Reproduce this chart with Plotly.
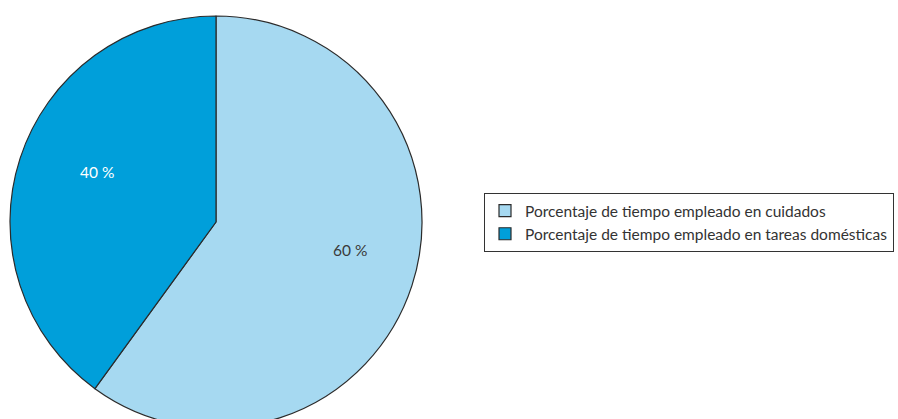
import plotly.graph_objects as go
import math

categories = ["Porcentaje de tiempo empleado en cuidados",
              "Porcentaje de tiempo empleado en tareas domésticas"]
values = [60, 40]
label_suffix = " %"
colors = ["#A6D9F1", "#009FDA"]
text_colors = ["#3a3a3a", "#ffffff"]

W, H = 898, 440
CX, CY, R = 216, 222, 206  # pie centre / radius in pixels (layout)
# label placement: (angle from top clockwise, radius fraction) per slice (layout)
label_pos = [(101.8, 0.665), (293.0, 0.625)]

fig = go.Figure(go.Pie(
    labels=categories,
    values=values,
    sort=False,
    direction="clockwise",
    rotation=0,
    marker=dict(colors=colors, line=dict(color="#2b2b2b", width=1.2)),
    textinfo="none",
    domain=dict(x=[(CX - R) / W, (CX + R) / W], y=[(H - CY - R) / H, (H - CY + R) / H]),
    hoverinfo="label+percent",
))

for v, (ang, fr), tc in zip(values, label_pos, text_colors):
    a = math.radians(ang)
    px = CX + fr * R * math.sin(a)
    py = CY - fr * R * math.cos(a)
    fig.add_annotation(
        x=px / W, y=(H - py) / H, xref="paper", yref="paper",
        text=f"{v}{label_suffix}", showarrow=False,
        font=dict(size=15.5, color=tc, family="Lato"),
        xanchor="center", yanchor="middle",
    )

fig.update_layout(
    width=W, height=H,
    margin=dict(l=0, r=0, t=0, b=0),
    paper_bgcolor="white",
    plot_bgcolor="white",
    font=dict(family="Lato", color="#333333"),
    showlegend=True,
    legend=dict(
        x=484 / W, xanchor="left",
        y=(H - 193) / H, yanchor="top",
        bordercolor="#333333", borderwidth=1,
        font=dict(size=15.5, color="#333333", family="Lato"),
        bgcolor="white",
    ),
)

fig.write_html("out.html", config={"displayModeBar": False}, post_script=(
    "document.body.style.margin='0';"
    "document.body.style.overflow='hidden';"
    "document.documentElement.style.overflow='hidden';"
))
